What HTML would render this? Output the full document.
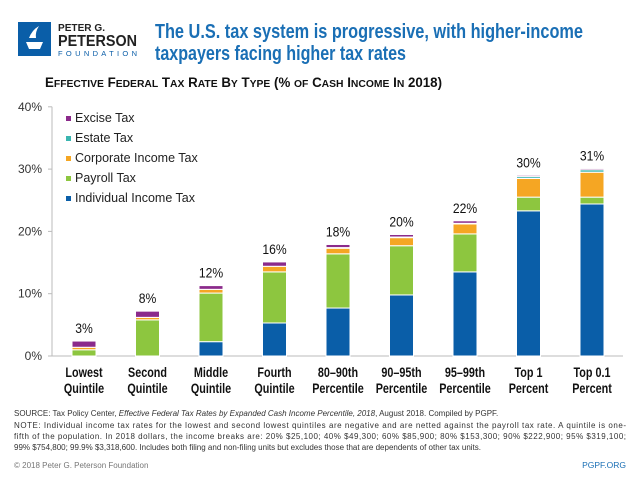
<!DOCTYPE html>
<html><head><meta charset="utf-8"><style>
body{margin:0;background:#fff;width:640px;height:480px;overflow:hidden;font-family:"Liberation Sans",sans-serif}
svg{display:block}
</style></head><body>
<svg id="chart" width="640" height="480">
<g>
<rect x="18" y="22" width="33" height="34" fill="#0a5ea8"/>
<path d="M26 42 h17 l-3 7 h-11 z M29 38 q3 -8 10 -12 q-4 6 -3 12 z" fill="#fff"/>
<text x="58" y="31" font-size="10.5" font-weight="bold" fill="#222" textLength="47" lengthAdjust="spacingAndGlyphs">PETER G.</text>
<text x="58" y="46" font-size="16" font-weight="bold" fill="#222" textLength="79" lengthAdjust="spacingAndGlyphs">PETERSON</text>
<text x="58" y="56" font-size="7.5" fill="#0a5ea8" textLength="79">FOUNDATION</text>
</g>
<text x="155" y="38" font-size="20" font-weight="bold" fill="#1a6fb5" textLength="428" lengthAdjust="spacingAndGlyphs">The U.S. tax system is progressive, with higher-income</text>
<text x="155" y="60" font-size="20" font-weight="bold" fill="#1a6fb5" textLength="251" lengthAdjust="spacingAndGlyphs">taxpayers facing higher tax rates</text>
<text x="45" y="87" font-size="13.5" font-weight="bold" fill="#111" textLength="397" lengthAdjust="spacingAndGlyphs">E<tspan font-size="10.5">FFECTIVE</tspan> F<tspan font-size="10.5">EDERAL</tspan> T<tspan font-size="10.5">AX</tspan> R<tspan font-size="10.5">ATE</tspan> B<tspan font-size="10.5">Y</tspan> T<tspan font-size="10.5">YPE</tspan> (% <tspan font-size="10.5">OF</tspan> C<tspan font-size="10.5">ASH</tspan> I<tspan font-size="10.5">NCOME</tspan> I<tspan font-size="10.5">N</tspan> 2018)</text>
<g id="axes"></g>
<g id="bars"></g>
<g id="legend"></g>
<g font-size="8" fill="#333">
<text x="14" y="416">SOURCE: Tax Policy Center, <tspan font-style="italic">Effective Federal Tax Rates by Expanded Cash Income Percentile, 2018</tspan>, August 2018. Compiled by PGPF.</text>
<text x="14" y="428" textLength="612">NOTE: Individual income tax rates for the lowest and second lowest quintiles are negative and are netted against the payroll tax rate. A quintile is one-</text>
<text x="14" y="439" textLength="612">fifth of the population. In 2018 dollars, the income breaks are: 20% $25,100; 40% $49,300; 60% $85,900; 80% $153,300; 90% $222,900; 95% $319,100;</text>
<text x="14" y="450">99% $754,800; 99.9% $3,318,600. Includes both filing and non-filing units but excludes those that are dependents of other tax units.</text>
<text x="14" y="468" fill="#777">© 2018 Peter G. Peterson Foundation</text>
<text x="626" y="468" fill="#1a6fb5" text-anchor="end" font-size="8.5">PGPF.ORG</text>
</g>
</svg>
<script>
const categories1=["Lowest","Second","Middle","Fourth","80–90th","90–95th","95–99th","Top 1","Top 0.1"];
const categories2=["Quintile","Quintile","Quintile","Quintile","Percentile","Percentile","Percentile","Percent","Percent"];
const individual=[0,0,2.3,5.3,7.7,9.8,13.5,23.3,24.4];
const payroll=[1.0,5.8,7.8,8.2,8.7,7.9,6.1,2.2,1.1];
const corporate=[0.4,0.4,0.6,0.9,0.9,1.3,1.6,3.0,4.0];
const estate=[0,0,0,0,0.1,0.1,0.1,0.3,0.4];
const excise=[1.0,1.0,0.6,0.7,0.5,0.4,0.4,0.2,0.2];
const totalLabels=["3%","8%","12%","16%","18%","20%","22%","30%","31%"];
const yTicks=[0,10,20,30,40];
const seriesNames=["Excise Tax","Estate Tax","Corporate Income Tax","Payroll Tax","Individual Income Tax"];
const NS="http://www.w3.org/2000/svg";
const y0=356,pxPer=6.23,xL=52,xR=623;
const y=v=>y0-v*pxPer;
const x=i=>84+i*63.5;
function mk(t,a,p){const e=document.createElementNS(NS,t);for(const k in a)e.setAttribute(k,a[k]);p.appendChild(e);return e;}
const ax=document.getElementById('axes');
const yl=mk('line',{x1:xL,y1:y(40),x2:xL,y2:y0,stroke:'#bbb'},ax);


const xl=mk('line',{x1:xL,y1:y0,x2:xR,y2:y0,stroke:'#bbb'},ax);


yTicks.forEach(t=>{
 mk('line',{x1:xL-4,y1:y(t),x2:xL,y2:y(t),stroke:'#bbb'},ax);
 const tx=mk('text',{x:xL-10,y:y(t)+4,'text-anchor':'end','font-size':12,fill:'#333'},ax);
 tx.textContent=t+'%';
 
 
});
const colors={individual:'#0a5ea8',payroll:'#8dc63f',corporate:'#f5a623',estate:'#3ab5b0',excise:'#8b2a8b'};
const bg=document.getElementById('bars');
function ctext(str,cx,cy,size,sx,w){
 const t=mk('text',{x:0,y:0,'text-anchor':'middle','font-size':size,'font-weight':w,fill:'#111',transform:'translate('+cx+','+cy+') scale('+sx+',1)'},bg);
 t.textContent=str;
 return t;
}
categories1.forEach((c,i)=>{
 let acc=0;
 [['individual',individual],['payroll',payroll],['corporate',corporate],['estate',estate],['excise',excise]].forEach(([k,arr])=>{
  const v=arr[i]; if(v<=0)return;
  const r=mk('rect',{x:x(i)-12,y:y(acc+v),width:24,height:v*pxPer,fill:colors[k],stroke:'#fff','stroke-width':1},bg);
  
  
  acc+=v;
 });
 const lb=ctext(totalLabels[i],x(i),y(acc)-8,13.5,0.9,'normal');
 
 
 const c1=ctext(c,x(i),377,13.5,0.8,'bold');
 
 
 const c2=ctext(categories2[i],x(i),393,13.5,0.8,'bold');
 
 
});
const lg=document.getElementById('legend');
const lc=[colors.excise,colors.estate,colors.corporate,colors.payroll,colors.individual];
seriesNames.forEach((n,i)=>{
 const yy=121+i*20;
 const s=mk('rect',{x:66,y:yy-5,width:5,height:5,fill:lc[i]},lg);
 
 
 const t=mk('text',{x:75,y:yy+1,'font-size':12.5,fill:'#222'},lg);
 t.textContent=n;
 
 
});
</script>
</body></html>
